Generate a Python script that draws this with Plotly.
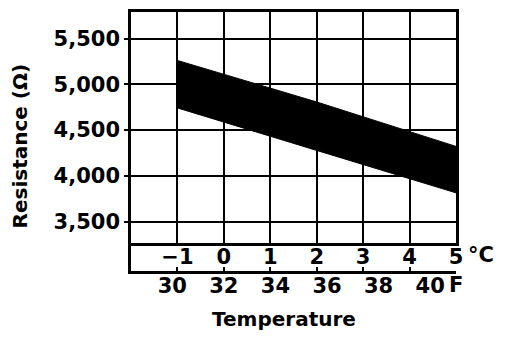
import plotly.graph_objects as go

# Data
temp_c = [-1, 2, 5]
upper_ohm = [5262, 4808, 4322]
lower_ohm = [4743, 4278, 3814]

y_ticks = [3500, 4000, 4500, 5000, 5500]
y_ticktext = ["3,500", "4,000", "4,500", "5,000", "5,500"]
c_ticks = [-1, 0, 1, 2, 3, 4, 5]
c_ticktext = ["\u22121", "0", "1", "2", "3", "4", "5"]
f_ticks = [30, 32, 34, 36, 38, 40]
f_ticktext = ["30", "32", "34", "36", "38", "40"]

FONT = "DejaVu Sans"
tickfont = dict(family=FONT, size=21, color="black", weight="bold")

fig = go.Figure()

band_x = temp_c + temp_c[::-1]
band_y = upper_ohm + lower_ohm[::-1]
fig.add_trace(go.Scatter(x=band_x, y=band_y, fill="toself", fillcolor="black",
                         mode="lines", line=dict(color="black", width=1),
                         xaxis="x", yaxis="y", showlegend=False, hoverinfo="skip"))
fig.add_trace(go.Scatter(x=[], y=[], xaxis="x2", yaxis="y2", showlegend=False))
fig.add_trace(go.Scatter(x=[], y=[], xaxis="x3", yaxis="y2", showlegend=False))

split = (271 - 243) / 262

fig.update_layout(
    width=504, height=330,
    margin=dict(l=123, r=56, t=1, b=67),
    paper_bgcolor="white", plot_bgcolor="white",
    xaxis=dict(domain=[0, 1], anchor="y", range=[-2, 5], tickvals=c_ticks,
               showticklabels=False, ticks="", showgrid=True, gridcolor="black",
               gridwidth=2, showline=True, linecolor="black", linewidth=2.5,
               mirror=True, zeroline=False),
    yaxis=dict(domain=[split, 1], anchor="x", range=[3262, 5792], tickvals=y_ticks,
               ticktext=y_ticktext, showgrid=True, gridcolor="black", gridwidth=2,
               showline=True, linecolor="black", linewidth=2.5, mirror=True,
               ticks="outside", ticklen=4, tickwidth=2, tickcolor="black",
               tickfont=tickfont, zeroline=False),
    xaxis2=dict(domain=[0, 1], anchor="y2", range=[-2, 5], tickvals=c_ticks,
                ticktext=c_ticktext, ticklabelposition="inside", ticklabeloverflow="allow",
                ticks="inside", ticklen=4, tickwidth=2, tickcolor="black",
                showgrid=False, showline=True, linecolor="black", linewidth=2.5,
                tickfont=tickfont, zeroline=False),
    yaxis2=dict(domain=[0, split], anchor="x2", range=[0, 1], showticklabels=False,
                ticks="", showgrid=False, showline=True, linecolor="black",
                linewidth=2.5, zeroline=False),
    xaxis3=dict(overlaying="x2", anchor="y2", side="bottom", range=[28.4, 41],
                tickvals=f_ticks, ticktext=f_ticktext, ticks="", showgrid=False,
                showline=False, tickfont=tickfont, zeroline=False,
                ticklabeloverflow="allow"),
    annotations=[
        dict(text="Resistance (\u03a9)", x=(20 - 131) / 325, y=(271 - 145) / 262,
             xref="paper", yref="paper", showarrow=False, textangle=-90,
             xanchor="center", yanchor="middle",
             font=dict(family=FONT, size=20, color="black", weight="bold")),
        dict(text="Temperature", x=(284 - 131) / 325, y=(271 - 320) / 262,
             xref="paper", yref="paper", showarrow=False,
             xanchor="center", yanchor="middle",
             font=dict(family=FONT, size=20, color="black", weight="bold")),
        dict(text="\u00b0C", x=(481 - 131) / 325, y=(271 - 255) / 262,
             xref="paper", yref="paper", showarrow=False,
             xanchor="center", yanchor="middle",
             font=dict(family=FONT, size=21, color="black", weight="bold")),
        dict(text="F", x=(456 - 131) / 325, y=(271 - 285) / 262,
             xref="paper", yref="paper", showarrow=False,
             xanchor="center", yanchor="middle",
             font=dict(family=FONT, size=21, color="black", weight="bold")),
    ],
)

fig.write_html("out.html")
